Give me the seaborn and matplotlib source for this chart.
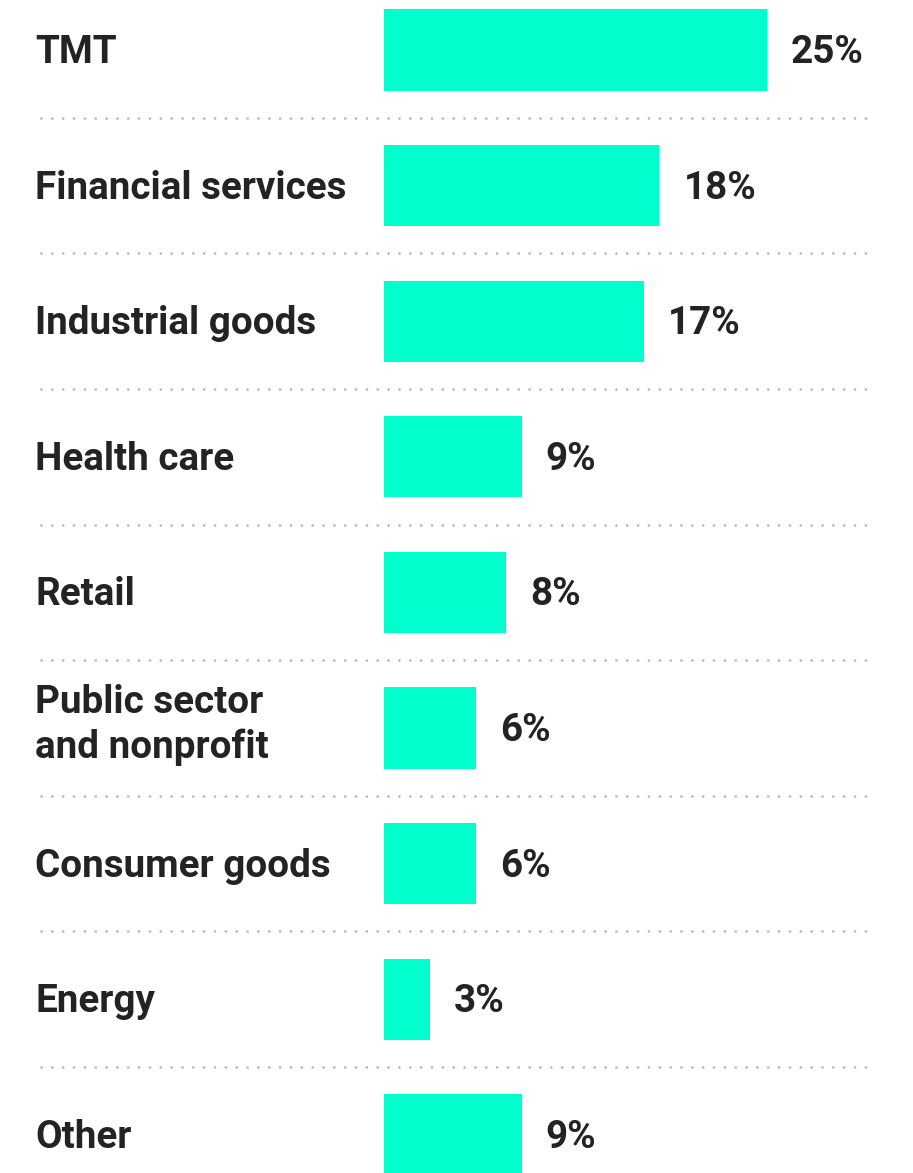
import matplotlib
matplotlib.use("Agg")
import matplotlib.pyplot as plt
import seaborn as sns
import pandas as pd

# Share of respondents by industry
categories = [
    "TMT",
    "Financial services",
    "Industrial goods",
    "Health care",
    "Retail",
    "Public sector\nand nonprofit",
    "Consumer goods",
    "Energy",
    "Other",
]
shares = [25, 18, 17, 9, 8, 6, 6, 3, 9]
value_labels = ["25%", "18%", "17%", "9%", "8%", "6%", "6%", "3%", "9%"]

BAR_COLOR = "#00FFCC"
TEXT_COLOR = "#232323"
DOT_COLOR = "#B8B8B8"
FONT_SIZE = 27.8

sns.set_theme(style="white")
plt.rcParams["font.family"] = ["Roboto", "DejaVu Sans"]
plt.rcParams["lines.scale_dashes"] = False

W, H = 913, 1173
fig = plt.figure(figsize=(W / 100, H / 100), dpi=100)
ax = fig.add_axes([0, 0, 1, 1])

df = pd.DataFrame({"category": categories, "share": shares})
sns.barplot(data=df, y="category", x="share", color=BAR_COLOR, saturation=1,
            width=0.6, orient="h", linewidth=0, ax=ax)

# Pixel geometry: zero at x=384px, 15.3px per percentage point,
# rows 135.6px apart with the first row centred at y=50px
px_per_unit = 15.3
x0_px = 384
x_min = -x0_px / px_per_unit
ax.set_xlim(x_min, (W - x0_px) / px_per_unit)
row = 135.6
ax.set_ylim((H - 50) / row, -50 / row)

ax.axis("off")

label_x = x_min + 35 / px_per_unit
for i, (cat, val, lab) in enumerate(zip(categories, shares, value_labels)):
    # last baseline sits half a cap height below the row centre for one line,
    # and lower for a two-line label so the block stays centred
    n_lines = cat.count("\n") + 1
    dy = -13 if n_lines == 1 else -30
    ax.annotate(cat, xy=(label_x, i), xytext=(0, dy), textcoords="offset pixels",
                ha="left", va="baseline", fontsize=FONT_SIZE, fontweight="bold",
                color=TEXT_COLOR, linespacing=1.25)
    ax.annotate(lab, xy=(val, i), xytext=(24, -13), textcoords="offset pixels",
                ha="left", va="baseline", fontsize=FONT_SIZE, fontweight="bold",
                color=TEXT_COLOR)

# Dotted separators between rows
for i in range(len(categories) - 1):
    ax.axhline(i + 0.5, xmin=41 / W, xmax=872 / W, color=DOT_COLOR,
               linewidth=2.0, linestyle=(0, (0.01, 7.8)),
               dash_capstyle="round")

fig.savefig("out.png", dpi=100, facecolor="white")
